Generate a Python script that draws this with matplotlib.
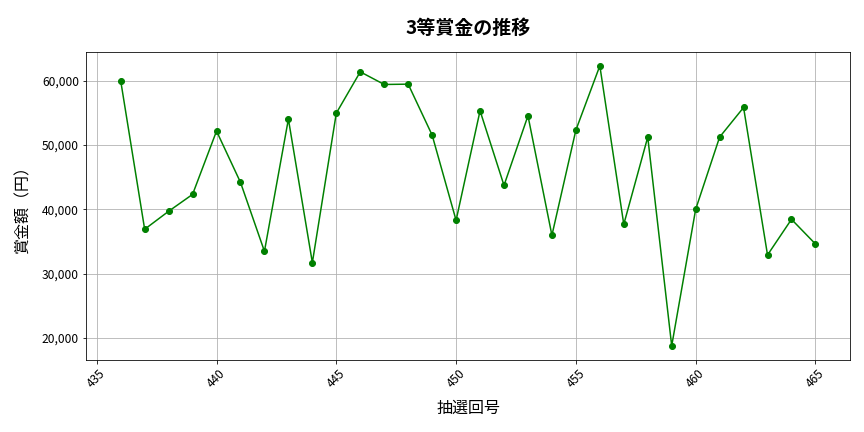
import matplotlib
matplotlib.use("Agg")
import matplotlib.pyplot as plt
from matplotlib.ticker import FuncFormatter

plt.rcParams['font.family'] = ['Noto Sans CJK JP', 'DejaVu Sans']

draws = list(range(436, 466))
prizes = [60000, 36900, 39700, 42330, 52180, 44200, 33470, 54040, 31710, 54970,
          61400, 59430, 59480, 51550, 38290, 55340, 43730, 54560, 35960, 52330,
          62330, 37670, 51240, 18760, 40000, 51240, 55850, 32900, 38450, 34610]

fig, ax = plt.subplots(figsize=(12, 6), dpi=72)
ax.plot(draws, prizes, color="green", marker="o", markersize=6, linewidth=1.5)
ax.set_title("3等賞金の推移", fontsize=19, fontweight="bold", pad=18)
ax.set_xlabel("抽選回号", fontsize=16, labelpad=10)
ax.set_ylabel("賞金額（円）", fontsize=16, labelpad=10)
ax.yaxis.set_major_formatter(FuncFormatter(lambda v, p: f"{int(v):,}"))
ax.grid(True, color="#b0b0b0", linewidth=0.8)
plt.xticks(rotation=45)
ax.tick_params(labelsize=12)
plt.subplots_adjust(left=0.0995, right=0.984, top=0.88, bottom=0.167)
plt.savefig("out.png")
